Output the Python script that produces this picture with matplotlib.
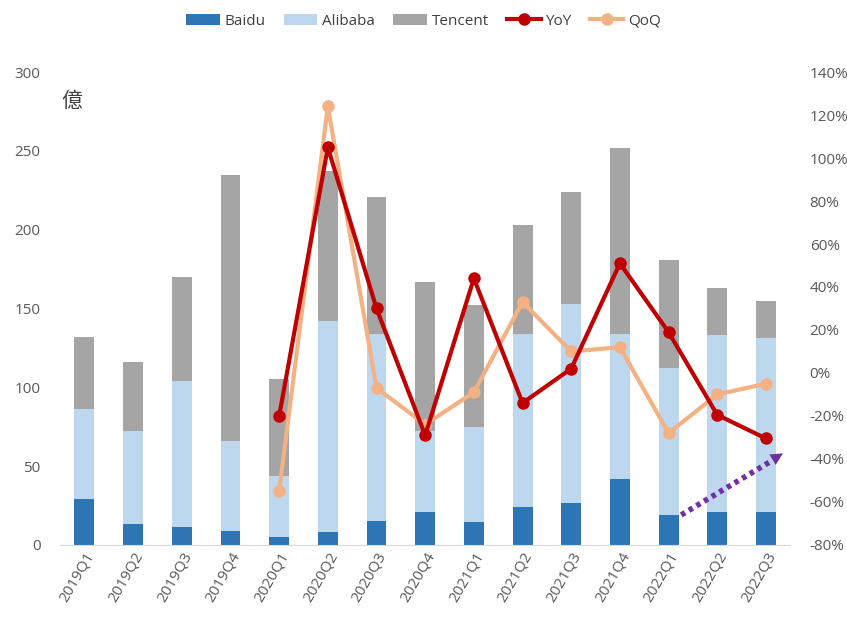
import matplotlib.pyplot as plt
import numpy as np

plt.rcParams['font.family'] = ['Open Sans', 'Noto Sans CJK TC', 'DejaVu Sans']

quarters = ['2019Q1', '2019Q2', '2019Q3', '2019Q4', '2020Q1', '2020Q2', '2020Q3', '2020Q4',
            '2021Q1', '2021Q2', '2021Q3', '2021Q4', '2022Q1', '2022Q2', '2022Q3']
# segment values (億), stacked
baidu = [29, 13, 11.5, 9, 5, 8, 15, 21, 14.5, 24, 26.5, 42, 19, 21, 21]
alibaba = [57, 59, 92.5, 57, 39, 134, 119, 51, 60.5, 110, 126.5, 92, 93, 112, 110]
tencent = [46, 44, 66, 169, 61, 95, 87, 95, 77, 69, 71, 118, 69, 30, 24]
# growth rates (%), from 2020Q1 on
yoy = [-20, 105, 30, -29, 44, -14, 2, 51, 19, -19.5, -30.5]
qoq = [-55, 124, -7, -24, -9, 33, 10, 12, -28, -10, -5]

x = np.arange(len(quarters))
xl = x[4:]

fig = plt.figure(figsize=(8.47, 6.27), dpi=100)
ax = fig.add_axes([0.071, 0.131, 0.862, 0.754])
w = 0.41
b1 = np.array(baidu)
b2 = b1 + np.array(alibaba)
ax.bar(x, baidu, w, color='#2E75B6', label='Baidu', zorder=2)
ax.bar(x, alibaba, w, bottom=b1, color='#BDD7EE', label='Alibaba', zorder=2)
ax.bar(x, tencent, w, bottom=b2, color='#A5A5A5', label='Tencent', zorder=2)
ax.set_ylim(0, 300)
ax.set_xlim(-0.5, 14.5)
ax.set_yticks(range(0, 301, 50))
ax.set_xticks(x)
ax.set_xticklabels(quarters, rotation=60, ha='right', rotation_mode='anchor')
for s in ['top', 'right', 'left']:
    ax.spines[s].set_visible(False)
ax.spines['bottom'].set_color('#D9D9D9')
ax.tick_params(axis='both', length=0, colors='#595959', labelsize=11)
ax.tick_params(axis='y', pad=14)

ax2 = ax.twinx()
ax2.plot(xl, yoy, color='#C00000', lw=3, marker='o', ms=8, label='YoY', zorder=4)
ax2.plot(xl, qoq, color='#F4B183', lw=3, marker='o', ms=8, label='QoQ', zorder=3)
ax2.set_ylim(-80, 140)
ax2.set_yticks(range(-80, 141, 20))
ax2.set_yticklabels([f'{v}%' for v in range(-80, 141, 20)])
for s in ax2.spines.values():
    s.set_visible(False)
ax2.tick_params(axis='y', length=0, colors='#595959', labelsize=11, pad=14)

# dotted purple trend arrow
ax.plot([12.26, 14.1], [19, 53], color='#7030A0', lw=4, ls=(0, (0.8, 0.8)), zorder=5)
ax.annotate('', xy=(14.4, 59), xytext=(14.0, 51.5),
            arrowprops=dict(arrowstyle='-|>', color='#7030A0', mutation_scale=22, lw=0), zorder=5)

ax.text(-0.48, 282, '億', fontsize=15, color='#404040', ha='left', va='center',
        family=['Noto Sans CJK TC'])

h1, l1 = ax.get_legend_handles_labels()
h2, l2 = ax2.get_legend_handles_labels()
fig.legend(h1 + h2, l1 + l2, loc='upper center', bbox_to_anchor=(0.5, 1.0), ncol=5,
           frameon=False, fontsize=11, labelcolor='#404040', handlelength=2.2,
           columnspacing=1.2, handletextpad=0.3)

fig.savefig('out.png', dpi=100)
